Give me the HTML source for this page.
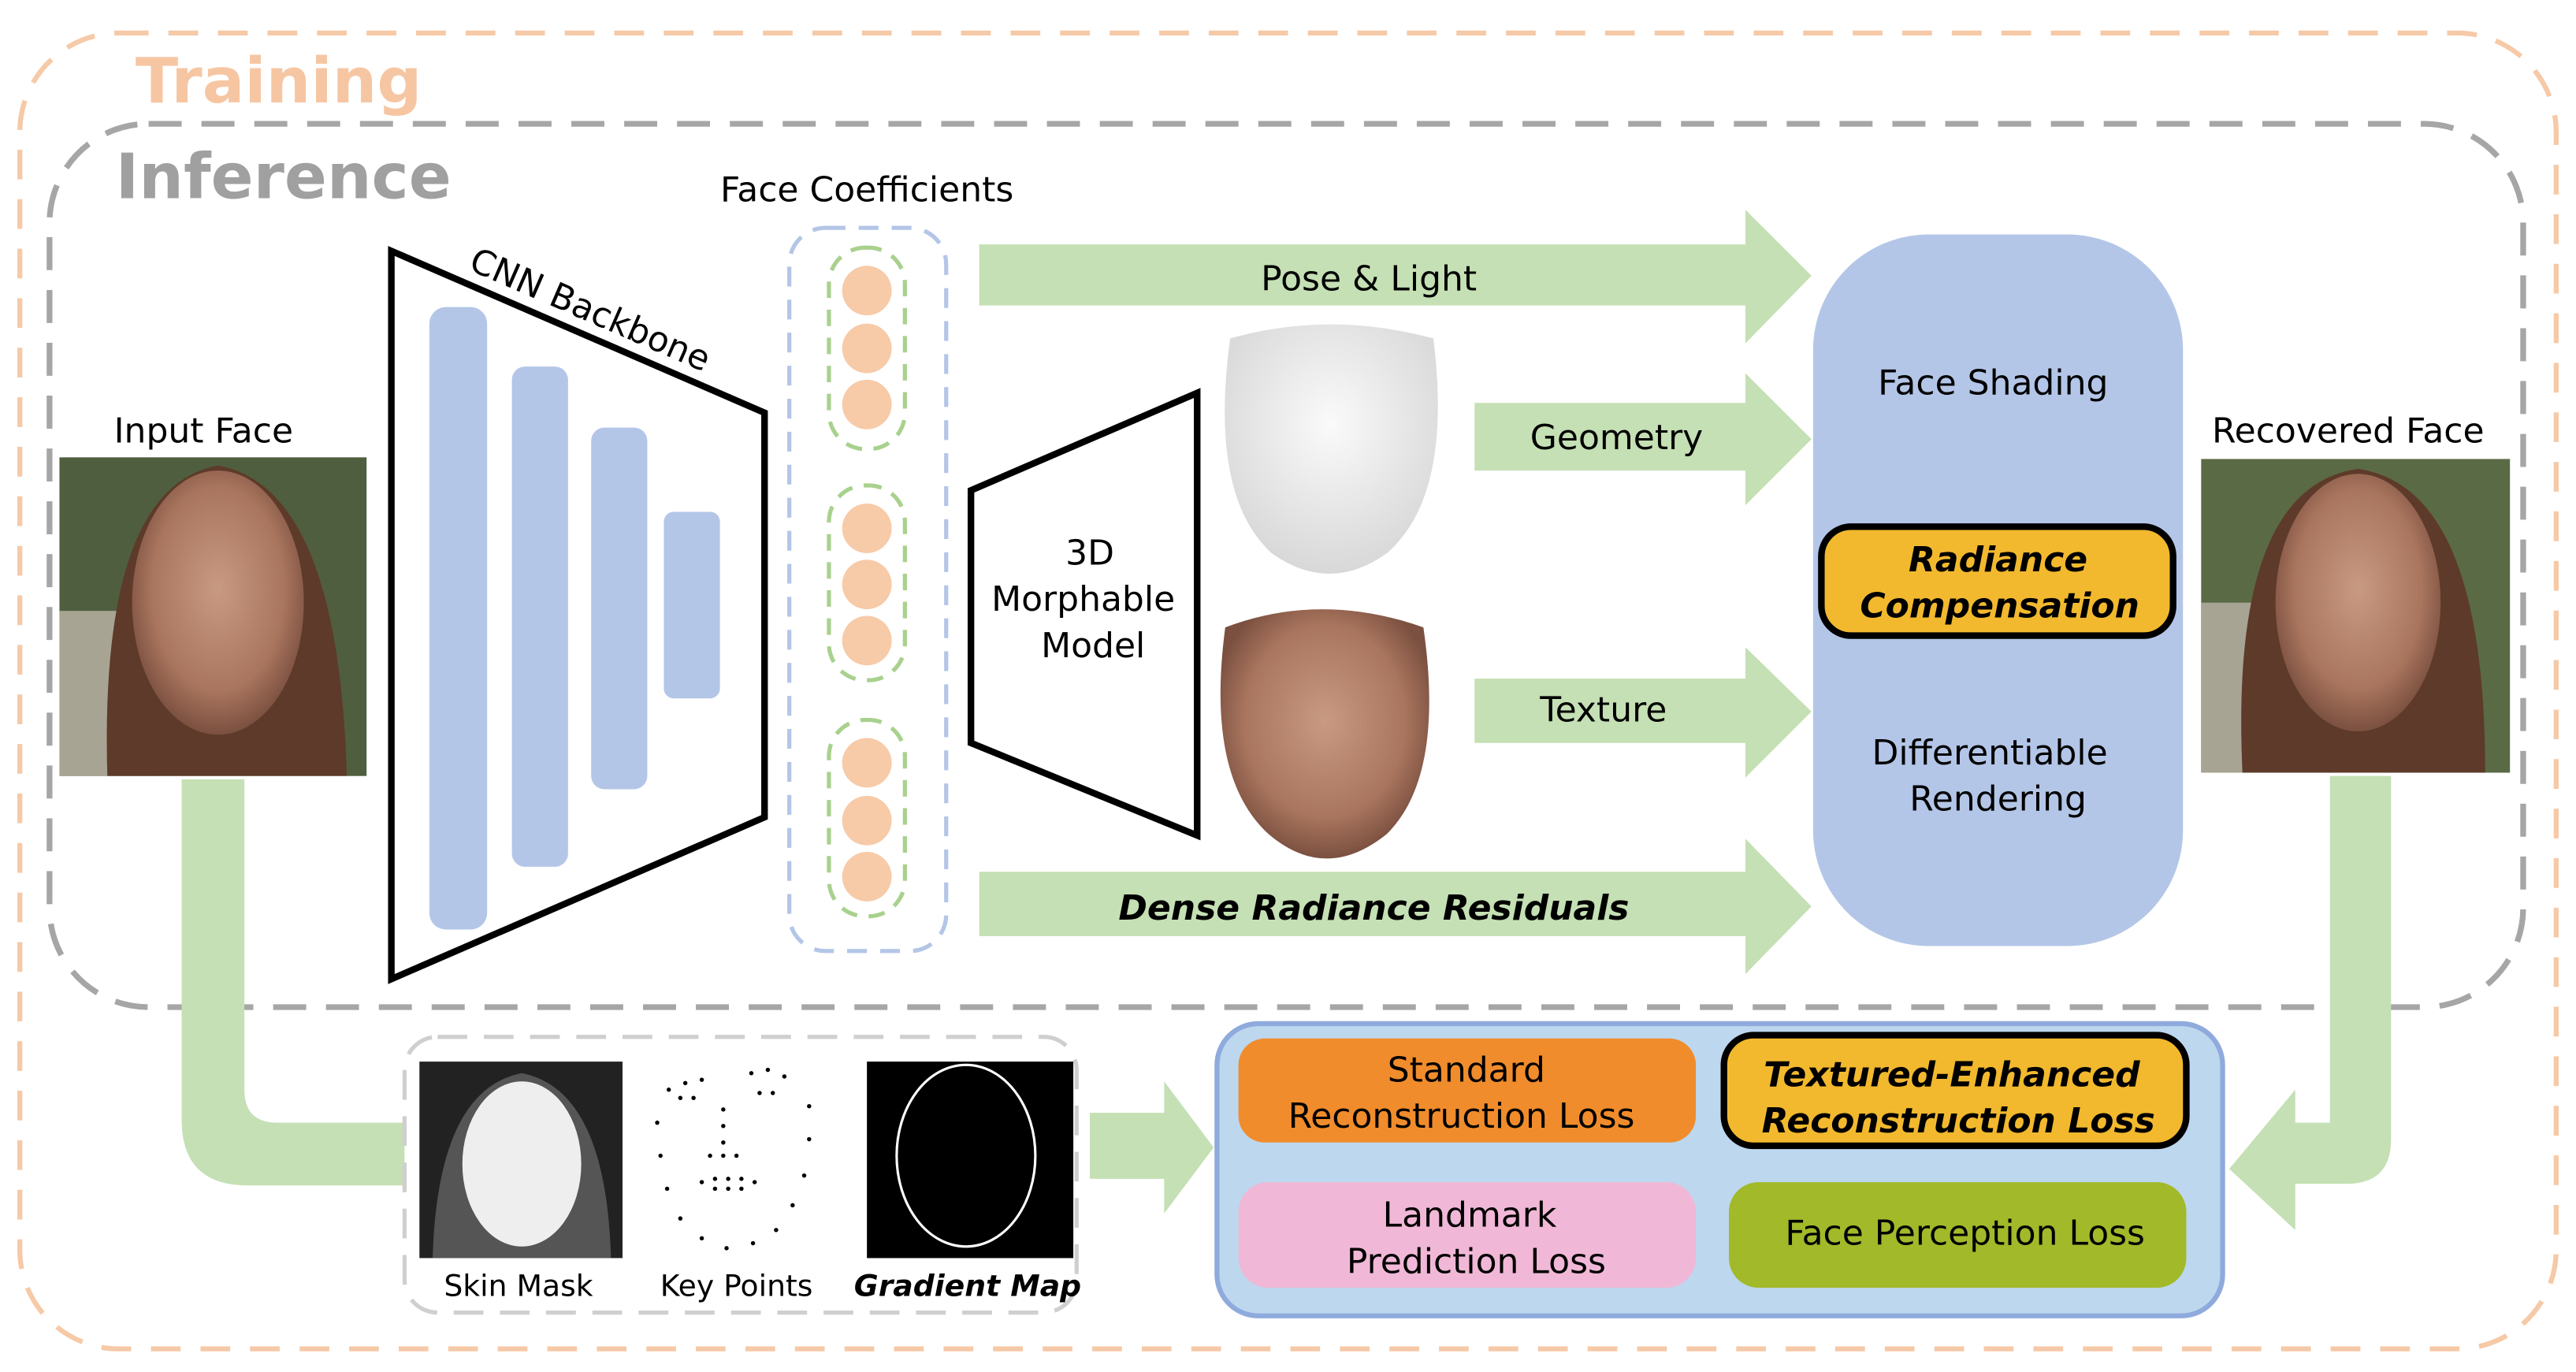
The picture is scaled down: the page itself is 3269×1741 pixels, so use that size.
<!DOCTYPE html>
<html><head><meta charset="utf-8">
<style>html,body{margin:0;padding:0;background:#fff}svg{display:block}
text{font-family:"DejaVu Sans","Liberation Sans",sans-serif;}</style></head>
<body>
<svg width="3269" height="1741" viewBox="0 0 1560 831" preserveAspectRatio="none" xmlns="http://www.w3.org/2000/svg">
<defs>
<radialGradient id="skin" cx="50%" cy="45%" r="55%"><stop offset="0" stop-color="#c99a82"/><stop offset="0.7" stop-color="#a9755e"/><stop offset="1" stop-color="#7b5040"/></radialGradient>
<radialGradient id="geo" cx="50%" cy="40%" r="60%"><stop offset="0" stop-color="#fafafa"/><stop offset="1" stop-color="#d8d8d8"/></radialGradient>
</defs>
<rect x="12" y="20" width="1536" height="797" rx="60" fill="none" stroke="#f6c9a7" stroke-width="3" stroke-dasharray="18,12"/>
<text x="82" y="62" font-size="38" font-weight="bold" fill="#f6c6a3">Training</text>
<rect x="30" y="75" width="1498" height="535" rx="60" fill="none" stroke="#a6a6a6" stroke-width="3.5" stroke-dasharray="20,12"/>
<text x="70" y="120" font-size="38" font-weight="bold" fill="#a0a0a0">Inference</text>

<path d="M110 472 H148 V660 Q148 680 168 680 H245 V718 H150 Q110 718 110 678 Z" fill="#c5e0b4"/>
<path d="M660 674 H705 V655 L735 695 L705 735 V714 H660 Z" fill="#c5e0b4"/>
<path d="M1411 470 H1448 V690 Q1448 717 1421 717 H1390 V745 L1350 708 L1390 660 V680 H1411 Z" fill="#c5e0b4"/>

<text x="69" y="268" font-size="21">Input Face</text>
<rect x="36" y="277" width="186" height="193" fill="#4f5e3f"/>
<rect x="36" y="370" width="60" height="100" fill="#a8a493"/>
<path d="M65 470 Q60 295 132 282 Q205 295 210 470 Z" fill="#5d3a29"/>
<ellipse cx="132" cy="365" rx="52" ry="80" fill="url(#skin)"/>
<text x="1422" y="268" font-size="21" text-anchor="middle">Recovered Face</text>
<rect x="1333" y="278" width="187" height="190" fill="#5a6a45"/>
<rect x="1333" y="365" width="50" height="103" fill="#a8a493"/>
<path d="M1358 468 Q1350 295 1428 284 Q1505 295 1505 468 Z" fill="#5d3a29"/>
<ellipse cx="1428" cy="365" rx="50" ry="78" fill="url(#skin)"/>

<polygon points="237,152 463,250 463,495 237,593" fill="#fff" stroke="#000" stroke-width="4"/>
<rect x="260" y="186" width="35" height="377" rx="10" fill="#b4c6e7"/>
<rect x="310" y="222" width="34" height="303" rx="8" fill="#b4c6e7"/>
<rect x="358" y="259" width="34" height="219" rx="8" fill="#b4c6e7"/>
<rect x="402" y="310" width="34" height="113" rx="6" fill="#b4c6e7"/>
<text x="283" y="163" font-size="21" transform="rotate(23.5 283 163)">CNN Backbone</text>

<text x="525" y="122" font-size="21" text-anchor="middle">Face Coefficients</text>
<rect x="478" y="138" width="95" height="438" rx="22" fill="none" stroke="#b4c6e7" stroke-width="2.5" stroke-dasharray="12,8"/>
<g fill="none" stroke="#a9d18e" stroke-width="2.5" stroke-dasharray="10,7">
<rect x="502" y="150" width="46" height="122" rx="22"/>
<rect x="502" y="294" width="46" height="118" rx="22"/>
<rect x="502" y="436" width="46" height="119" rx="22"/>
</g>
<g fill="#f7caa8">
<circle cx="525" cy="176" r="15"/><circle cx="525" cy="211" r="15"/><circle cx="525" cy="245" r="15"/>
<circle cx="525" cy="320" r="15"/><circle cx="525" cy="354" r="15"/><circle cx="525" cy="388" r="15"/>
<circle cx="525" cy="462" r="15"/><circle cx="525" cy="497" r="15"/><circle cx="525" cy="531" r="15"/>
</g>

<polygon points="588,297 725,238 725,506 588,450" fill="#fff" stroke="#000" stroke-width="4"/>
<text x="660" y="342" font-size="21" text-anchor="middle">3D</text>
<text x="656" y="370" font-size="21" text-anchor="middle">Morphable</text>
<text x="662" y="398" font-size="21" text-anchor="middle">Model</text>

<path d="M745 205 Q805 188 868 205 Q880 300 840 335 Q805 360 770 335 Q732 300 745 205 Z" fill="url(#geo)"/>
<path d="M742 380 Q800 358 862 380 Q875 470 840 505 Q803 535 768 505 Q730 470 742 380 Z" fill="url(#skin)"/>

<g fill="#c5e0b4">
<path d="M593 148 H1057 V127 L1097 167 L1057 208 V185 H593 Z"/>
<path d="M893 244 H1057 V226 L1097 266 L1057 306 V285 H893 Z"/>
<path d="M893 411 H1057 V392 L1097 431 L1057 471 V450 H893 Z"/>
<path d="M593 528 H1057 V508 L1097 549 L1057 590 V567 H593 Z"/>
</g>
<text x="829" y="176" font-size="21" text-anchor="middle">Pose &amp; Light</text>
<text x="979" y="272" font-size="21" text-anchor="middle">Geometry</text>
<text x="971" y="437" font-size="21" text-anchor="middle">Texture</text>
<text x="832" y="557" font-size="21" font-weight="bold" font-style="italic" text-anchor="middle">Dense Radiance Residuals</text>

<rect x="1098" y="142" width="224" height="431" rx="70" fill="#b4c6e7"/>
<text x="1207" y="239" font-size="21" text-anchor="middle">Face Shading</text>
<rect x="1103" y="319" width="213" height="66" rx="18" fill="#f2b92e" stroke="#000" stroke-width="4"/>
<text x="1210" y="346" font-size="21" font-weight="bold" font-style="italic" text-anchor="middle">Radiance</text>
<text x="1211" y="374" font-size="21" font-weight="bold" font-style="italic" text-anchor="middle">Compensation</text>
<text x="1205" y="463" font-size="21" text-anchor="middle">Differentiable</text>
<text x="1210" y="491" font-size="21" text-anchor="middle">Rendering</text>

<rect x="245" y="628" width="407" height="167" rx="20" fill="#fff" stroke="#cfcfcf" stroke-width="2.5" stroke-dasharray="18,10"/>
<rect x="254" y="643" width="123" height="119" fill="#222"/>
<path d="M262 762 Q265 660 316 650 Q367 660 370 762 Z" fill="#555"/>
<ellipse cx="316" cy="705" rx="36" ry="50" fill="#eee"/>
<rect x="525" y="643" width="125" height="119" fill="#000"/>
<ellipse cx="585" cy="700" rx="42" ry="55" fill="none" stroke="#fff" stroke-width="1.5"/>
<g fill="#000">
<circle cx="405" cy="660" r="1.3"/><circle cx="415" cy="656" r="1.3"/><circle cx="425" cy="654" r="1.3"/>
<circle cx="455" cy="650" r="1.3"/><circle cx="465" cy="648" r="1.3"/><circle cx="475" cy="652" r="1.3"/>
<circle cx="412" cy="665" r="1.3"/><circle cx="420" cy="665" r="1.3"/><circle cx="460" cy="662" r="1.3"/><circle cx="468" cy="662" r="1.3"/>
<circle cx="398" cy="680" r="1.3"/><circle cx="400" cy="700" r="1.3"/><circle cx="404" cy="720" r="1.3"/><circle cx="412" cy="738" r="1.3"/>
<circle cx="425" cy="750" r="1.3"/><circle cx="440" cy="756" r="1.3"/><circle cx="456" cy="753" r="1.3"/><circle cx="470" cy="745" r="1.3"/>
<circle cx="480" cy="730" r="1.3"/><circle cx="487" cy="712" r="1.3"/><circle cx="490" cy="690" r="1.3"/><circle cx="490" cy="670" r="1.3"/>
<circle cx="438" cy="672" r="1.3"/><circle cx="438" cy="682" r="1.3"/><circle cx="438" cy="692" r="1.3"/>
<circle cx="430" cy="700" r="1.3"/><circle cx="438" cy="700" r="1.3"/><circle cx="446" cy="700" r="1.3"/>
<circle cx="425" cy="716" r="1.3"/><circle cx="433" cy="714" r="1.3"/><circle cx="441" cy="714" r="1.3"/><circle cx="449" cy="714" r="1.3"/><circle cx="457" cy="716" r="1.3"/>
<circle cx="433" cy="720" r="1.3"/><circle cx="441" cy="720" r="1.3"/><circle cx="449" cy="720" r="1.3"/>
</g>
<text x="314" y="785" font-size="18" text-anchor="middle">Skin Mask</text>
<text x="446" y="785" font-size="18" text-anchor="middle">Key Points</text>
<text x="586" y="785" font-size="18" font-weight="bold" font-style="italic" text-anchor="middle">Gradient Map</text>

<rect x="737" y="620" width="609" height="177" rx="25" fill="#bdd7ee" stroke="#8faadc" stroke-width="3"/>
<rect x="750" y="629" width="277" height="63" rx="16" fill="#f08c2c"/>
<text x="888" y="655" font-size="21" text-anchor="middle">Standard</text>
<text x="885" y="683" font-size="21" text-anchor="middle">Reconstruction Loss</text>
<rect x="1044" y="627" width="280" height="67" rx="18" fill="#f2b92e" stroke="#000" stroke-width="4"/>
<text x="1182" y="658" font-size="21" font-weight="bold" font-style="italic" text-anchor="middle">Textured-Enhanced</text>
<text x="1186" y="686" font-size="21" font-weight="bold" font-style="italic" text-anchor="middle">Reconstruction Loss</text>
<rect x="750" y="716" width="277" height="64" rx="18" fill="#f0b8d6"/>
<text x="890" y="743" font-size="21" text-anchor="middle">Landmark</text>
<text x="894" y="771" font-size="21" text-anchor="middle">Prediction Loss</text>
<rect x="1047" y="716" width="277" height="64" rx="18" fill="#a2b92a"/>
<text x="1190" y="754" font-size="21" text-anchor="middle">Face Perception Loss</text>
</svg>
</body></html>
